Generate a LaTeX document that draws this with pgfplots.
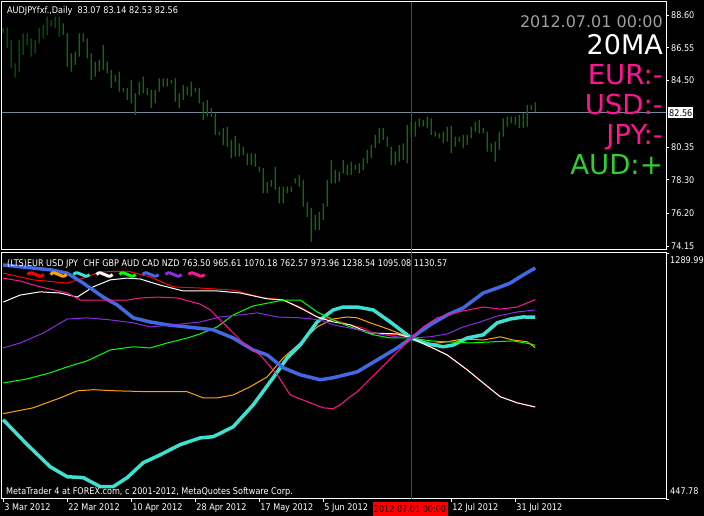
\documentclass[border=0pt]{standalone}
\usepackage{pgfplots}
\pgfplotsset{compat=1.18}
\usepackage{pgfplotstable}
\usepackage{fontspec}
\setmainfont{DejaVu Sans}[FakeStretch=0.88]
\newfontfamily\bigf{DejaVu Sans}
\definecolor{bargreen}{RGB}{0,118,0}
\definecolor{eurc}{RGB}{255,0,0}
\definecolor{usdc}{RGB}{255,165,0}
\definecolor{jpyc}{RGB}{64,224,208}
\definecolor{chfc}{RGB}{255,255,255}
\definecolor{gbpc}{RGB}{0,255,0}
\definecolor{audc}{RGB}{65,105,225}
\definecolor{cadc}{RGB}{138,43,226}
\definecolor{nzdc}{RGB}{255,20,147}
\definecolor{lblpink}{RGB}{255,20,147}
\definecolor{lblgreen}{RGB}{50,205,50}
\definecolor{hline}{RGB}{119,136,153}
\newcommand{\sm}{\fontsize{9.2}{10}\selectfont}

\pgfplotstableread{
i h l
0 87.77 87.45
1 87.83 86.52
2 87.04 85.27
3 85.58 84.70
4 87.04 85.06
5 87.45 86.10
6 87.45 86.73
7 87.14 86.00
8 87.04 86.20
9 87.77 86.83
10 87.98 87.14
11 88.50 87.35
12 88.29 87.87
13 88.50 87.77
14 88.50 87.25
15 88.08 87.35
16 87.45 85.37
17 86.20 85.06
18 86.31 85.48
19 87.45 86.00
20 87.45 86.93
21 87.14 85.89
22 86.20 84.54
23 85.68 84.75
24 85.79 85.06
25 86.73 85.16
26 85.68 84.95
27 85.16 84.02
28 84.85 84.43
29 85.06 83.81
30 84.02 83.81
31 84.02 83.29
32 84.54 83.08
33 83.70 82.35
34 84.43 83.60
35 84.75 83.70
36 84.02 83.60
37 83.91 82.77
38 83.91 83.08
39 84.64 83.81
40 84.64 84.12
41 84.64 84.12
42 84.54 84.33
43 84.64 83.18
44 83.70 82.77
45 84.23 83.29
46 84.12 83.60
47 84.43 83.50
48 84.02 83.81
49 84.02 83.08
50 83.18 82.04
51 83.29 82.25
52 82.77 82.25
53 82.45 81.10
54 81.31 81.10
55 81.52 80.48
56 81.62 80.37
57 80.79 79.64
58 81.04 79.75
59 80.58 79.75
60 80.37 79.85
61 79.95 79.22
62 79.95 79.22
63 79.95 79.12
64 79.12 78.81
65 79.02 77.45
66 78.18 77.45
67 78.29 77.87
68 79.12 77.66
69 77.87 76.83
70 77.87 76.83
71 77.87 77.45
72 77.87 77.56
73 78.39 78.08
74 78.60 77.87
75 78.29 76.62
76 76.93 75.98
77 76.52 74.43
78 76.10 75.16
79 76.31 75.16
80 76.83 75.79
81 78.29 76.62
82 79.54 78.08
83 78.91 78.08
84 78.81 78.18
85 79.54 78.70
86 79.23 78.60
87 79.43 78.60
88 79.23 78.91
89 79.33 78.70
90 79.64 78.91
91 80.16 79.33
92 80.48 79.64
93 81.10 80.27
94 81.52 80.58
95 81.52 80.79
96 81.00 80.37
97 80.37 79.22
98 80.06 79.22
99 80.48 79.43
100 80.58 79.54
101 81.73 79.33
102 81.93 81.00
103 81.93 81.00
104 82.14 81.62
105 82.04 81.62
106 82.25 81.52
107 82.14 81.10
108 81.31 81.00
109 81.20 80.89
110 81.31 80.58
111 81.62 80.68
112 81.66 79.95
113 81.00 80.37
114 81.00 80.68
115 81.10 80.27
116 81.10 80.48
117 81.62 80.89
118 81.93 81.31
119 82.04 81.20
120 81.52 81.20
121 81.31 80.06
122 80.58 80.06
123 80.68 79.43
124 81.31 80.16
125 82.14 81.00
126 82.25 81.62
127 82.25 81.83
128 82.25 81.73
129 82.35 81.52
130 82.45 81.52
131 82.98 81.62
132 82.98 82.66
133 83.14 82.53
}\bars

\begin{document}
\begin{tikzpicture}[x=1pt,y=1pt]
\fill[black] (0,0) rectangle (704,516);
\useasboundingbox (0,0) rectangle (704,516);

% current price line (82.56)
\draw[hline, line width=1pt] (2,403) -- (666,403);

% ---------- price panel ----------
\begin{axis}[at={(2pt,266pt)}, anchor=south west, scale only axis,
  width=664pt, height=248pt,
  xmin=-0.3, xmax=165.7, ymin=73.91, ymax=89.41,
  axis line style={white, line width=1pt},
  xtick=\empty,
  ytick={74.15,76.20,78.30,80.35,84.50,86.55,88.60},
  yticklabels={74.15,76.20,78.30,80.35,84.50,86.55,88.60},
  ytick pos=right, yticklabel pos=right, ytick align=outside,
  major tick length=3pt, tick style={white, line width=0.8pt},
  yticklabel style={text=white, font=\sm, inner sep=1pt, xshift=1pt},
  ybar stacked, bar width=1.1pt,
  clip=true]
\addplot[draw=none, fill=none, forget plot] table[x=i, y=l] {\bars};
\addplot[draw=none, fill=bargreen, forget plot] table[x=i, y expr=\thisrow{h}-\thisrow{l}] {\bars};
\end{axis}

% ---------- currency-strength panel ----------
\begin{axis}[at={(2pt,17pt)}, anchor=south west, scale only axis,
  width=664pt, height=246pt,
  xmin=-0.3, xmax=165.7, ymin=447.78, ymax=1289.99,
  axis line style={white, line width=1pt},
  ytick={1289.99,447.78}, yticklabels={,},
  ytick pos=right, ytick align=outside,
  xtick={0,16,32,48,64,80,112,128},
  xticklabels={3 Mar 2012,22 Mar 2012,10 Apr 2012,28 Apr 2012,17 May 2012,5 Jun 2012,12 Jul 2012,31 Jul 2012},
  xtick pos=bottom, xtick align=outside,
  major tick length=3pt, tick style={white, line width=0.8pt},
  xticklabel style={text=white, font=\sm, anchor=north west, inner sep=1pt},
  clip=true]
\addplot[eurc, line width=1pt] coordinates {(0,1221) (7.5,1198) (16,1187) (20,1204) (24.25,1225) (31,1228) (36.75,1208) (42.5,1174) (49.25,1170) (57.5,1163) (64.25,1139) (70,1129) (74.25,1105) (78.5,1071) (82.5,1061) (86.75,1044) (90,1033) (92.5,1016) (98.5,1010) (102,999) (106.75,969) (111,941) (116,890) (120,845) (124.25,798) (128.5,777) (133,763.5)};
\addplot[usdc, line width=1pt] coordinates {(0,740) (7.5,760) (14.25,794) (18.5,818) (22.5,822) (28.5,818) (36.75,815) (46,815) (50,794) (53.5,794) (57.5,804) (61.75,832) (66,866) (70,931) (74.25,982) (78.5,1037) (82.5,1064) (86,1071) (88.5,1068) (91.75,1051) (96.75,1027) (102,999) (106.75,979) (111,986) (115,996) (120,992) (124.25,1003) (127.5,992) (131,986) (133,965.61)};
\addplot[jpyc, line width=3.5pt] coordinates {(0,719) (6,634) (11.75,558) (16,524) (20,521) (24.25,490) (27.5,490) (31,521) (35,572) (39.25,599) (44.25,634) (49.25,657) (52.5,661) (57.5,695) (62.5,770) (67.5,863) (71,931) (74.25,975) (78.5,1054) (82.5,1095) (85,1105) (88.5,1105) (92.5,1095) (96.75,1054) (102,999) (106,979) (110,969) (112.5,975) (116,999) (120,1010) (123.5,1051) (126.75,1064) (130,1071) (133,1070.18)};
\addplot[chfc, line width=1pt] coordinates {(0,1122) (4.25,1146) (9.25,1157) (14.25,1153) (18.5,1139) (22.5,1174) (26.75,1198) (31,1204) (34.25,1201) (39.25,1180) (45,1160) (53.5,1160) (59.25,1153) (66,1133) (70,1129) (74.25,1102) (78.5,1071) (82.5,1054) (86.75,1044) (91.75,1016) (98.5,1013) (102,999) (106.75,969) (111,941) (116,890) (120,845) (124.25,798) (128.5,777) (133,762.57)};
\addplot[gbpc, line width=1pt] coordinates {(0,845) (6,859) (11.75,880) (16,900) (21,921) (26.75,958) (32.5,969) (36.75,965) (41,982) (46,999) (49.25,1013) (53.5,1037) (57.5,1078) (62.5,1109) (67.5,1122) (70,1129) (74.25,1129) (78.5,1088) (82.5,1061) (86.75,1037) (92.5,1010) (96.75,999) (102,999) (106.75,989) (111,986) (116.75,982) (122.5,986) (127.5,989) (131.75,979) (133,973.96)};
\addplot[audc, line width=3.5pt] coordinates {(0,1249) (5,1242) (12,1232) (16,1221) (20,1187) (25,1139) (28.5,1112) (32.5,1068) (36.75,1054) (41,1044) (46,1037) (52.5,1027) (57.5,999) (62.5,958) (66,941) (70,897) (74.25,873) (79.25,856) (82.5,863) (88.5,883) (93.5,924) (98.5,965) (102,999) (106.75,1044) (111,1078) (115,1102) (120,1153) (123.5,1170) (126.75,1187) (130,1215) (133,1238.54)};
\addplot[cadc, line width=1pt] coordinates {(0,965) (4.25,982) (10,1016) (16,1064) (21,1068) (26.75,1061) (32.5,1051) (36.75,1037) (42.5,1044) (49.25,1054) (54.25,1071) (59.25,1078) (63.5,1085) (68.5,1071) (74.25,1068) (79.25,1061) (82.5,1044) (86.75,1033) (92.5,1016) (98.5,1003) (102,999) (106.75,1003) (111,1013) (115,1037) (119.25,1054) (123.5,1074) (128.5,1088) (133,1095.08)};
\addplot[nzdc, line width=1pt] coordinates {(0,1204) (4.25,1194) (9.25,1174) (16,1153) (19.25,1129) (24.25,1129) (31,1129) (34.25,1136) (38.5,1139) (43.5,1136) (49.25,1115) (51.75,1095) (56,1037) (60,982) (64.25,941) (68.5,873) (71.75,804) (76,781) (80,760) (82.5,757) (84.25,770) (86.75,798) (88.5,815) (93.5,883) (98.5,951) (102,999) (105,1037) (108.5,1068) (111,1078) (115,1092) (120,1105) (124.25,1098) (128.5,1105) (133,1130.57)};
\end{axis}

% vertical marker line
\draw[red, line width=1pt] (411.2,17) -- (411.2,514);

% price label box
\node[fill=white, text=black, font=\sm, anchor=west, inner sep=1pt, minimum height=11pt] at (668,403) {82.56};
% lower panel scale labels
\node[text=white, font=\sm, anchor=west, inner sep=0pt] at (670,256) {1289.99};
\node[text=white, font=\sm, anchor=west, inner sep=0pt] at (670,24.5) {447.78};
% date marker box
\node[fill=red, text=black, font=\sm, anchor=south, minimum width=75pt, minimum height=14pt, inner sep=0pt] at (410,0) {2012.07.01 00:00};

% titles
\node[text=white, font=\sm, anchor=base west, inner sep=0pt] at (7,502) {AUDJPYfxf.,Daily\ \ 83.07 83.14 82.53 82.56};
\node[text=white, font=\sm, anchor=base west, inner sep=0pt] at (7,249) {(LTS)EUR USD JPY\ \ CHF GBP AUD CAD NZD 763.50 965.61 1070.18 762.57 973.96 1238.54 1095.08 1130.57};
\node[text=white, font=\sm, anchor=base west, inner sep=0pt] at (6,21) {MetaTrader 4 at FOREX.com, c 2001-2012, MetaQuotes Software Corp.};

% legend waves
\foreach \c [count=\k from 0] in {eurc,usdc,jpyc,chfc,gbpc,audc,cadc,nzdc}{
  \draw[\c, line width=3pt] ({27.5+23*\k},241.5) .. controls ({32.5+23*\k},247.5) and ({38.5+23*\k},235.5) .. ({43.5+23*\k},241.5);
}

% right-hand big labels
\node[text=gray!75, font=\bigf\fontsize{16}{18}\selectfont, anchor=base east, inner sep=0pt] at (663,488) {2012.07.01 00:00};
\node[text=white, font=\bigf\fontsize{27}{30}\selectfont, anchor=base east, inner sep=0pt] at (663,461) {20MA};
\node[text=lblpink, font=\bigf\fontsize{27.5}{30}\selectfont, anchor=base east, inner sep=0pt] at (663,431) {EUR:-};
\node[text=lblpink, font=\bigf\fontsize{27.5}{30}\selectfont, anchor=base east, inner sep=0pt] at (663,401) {USD:-};
\node[text=lblpink, font=\bigf\fontsize{27.5}{30}\selectfont, anchor=base east, inner sep=0pt] at (663,371) {JPY:-};
\node[text=lblgreen, font=\bigf\fontsize{27.5}{30}\selectfont, anchor=base east, inner sep=0pt] at (663,341) {AUD:+};
\end{tikzpicture}
\end{document}
